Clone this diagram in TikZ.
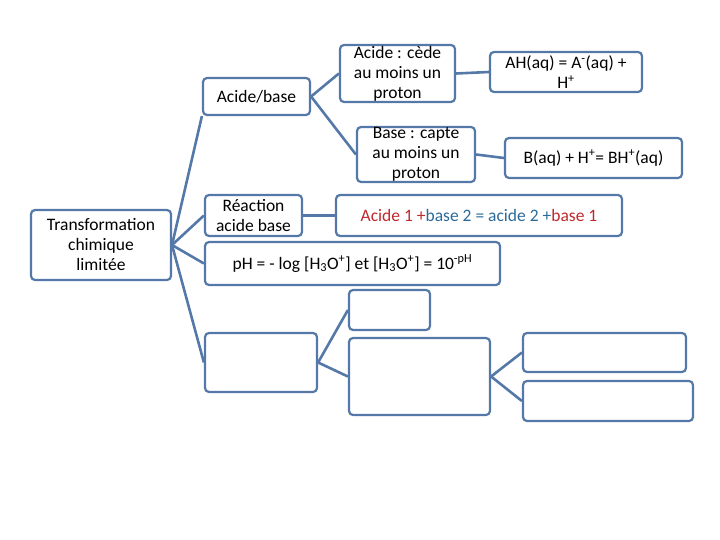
\documentclass[tikz,border=0pt]{standalone}
\usepackage{fontspec}
\setmainfont{Carlito}
\begin{document}
\begin{tikzpicture}[x=1pt,y=-1pt,
 bx/.style={draw=bcol,line width=2.2pt,rounded corners=4pt,align=center,inner sep=0pt,font=\fontsize{17.5}{20}\selectfont},
 ln/.style={draw=bcol,line width=2.6pt}]
\definecolor{bcol}{HTML}{5479A8}
\definecolor{rc}{HTML}{C0282D}
\definecolor{tc}{HTML}{2A6A9A}
\useasboundingbox (0,0) rectangle (720,540);
\newcommand{\bxat}[6]{\node[bx,minimum width=#4-#2,minimum height=#5-#3] (#1) at ({(#2+#4)/2},{(#3+#5)/2}) {#6};}
\bxat{tr}{31}{210}{171}{280}{Transformation\\chimique\\limitée}
\bxat{ab}{203}{78}{310}{115}{Acide/base}
\bxat{ac}{340}{45}{455}{102}{Acide : cède\\au moins un\\proton}
\bxat{ah}{490}{52}{642}{92}{AH(aq) = A\textsuperscript{-}(aq) +\\H\textsuperscript{+}}
\bxat{bc}{357}{127}{475}{182}{Base : capte\\au moins un\\proton}
\bxat{bq}{505}{138}{682}{178}{B(aq) + H\textsuperscript{+}= BH\textsuperscript{+}(aq)}
\bxat{re}{205}{195}{302}{236}{Réaction\\acide base}
\bxat{eq}{336}{195}{622}{236}{\textcolor{rc}{Acide 1 +}\textcolor{tc}{base 2 = acide 2 +}\textcolor{rc}{base 1}}
\bxat{ph}{205}{242}{500}{285}{pH = - log [H\textsubscript{3}O\textsuperscript{+}] et [H\textsubscript{3}O\textsuperscript{+}] = 10\textsuperscript{-pH}}
\bxat{sm}{349}{290}{430}{330}{}
\bxat{le}{205}{333}{317}{392}{}
\bxat{bg}{349}{338}{490}{415}{}
\bxat{rt}{523}{333}{686}{372}{}
\bxat{rb}{523}{381}{693}{421}{}
\coordinate (o) at (172,245);
\draw[ln] (o) -- (ab.south west);
\draw[ln] (o) -- (re.west);
\draw[ln] (o) -- (ph.west);
\draw[ln] (o) -- (le.west);
\draw[ln] (ab.east) -- (ac.west);
\draw[ln] (ab.east) -- (bc.west);
\draw[ln] (ac.east) -- (ah.west);
\draw[ln] (bc.east) -- (bq.west);
\draw[ln] (re.east) -- (eq.west);
\draw[ln] (le.east) -- (sm.west);
\draw[ln] (le.east) -- (bg.west);
\draw[ln] (bg.east) -- (rt.west);
\draw[ln] (bg.east) -- (rb.west);
\end{tikzpicture}
\end{document}
